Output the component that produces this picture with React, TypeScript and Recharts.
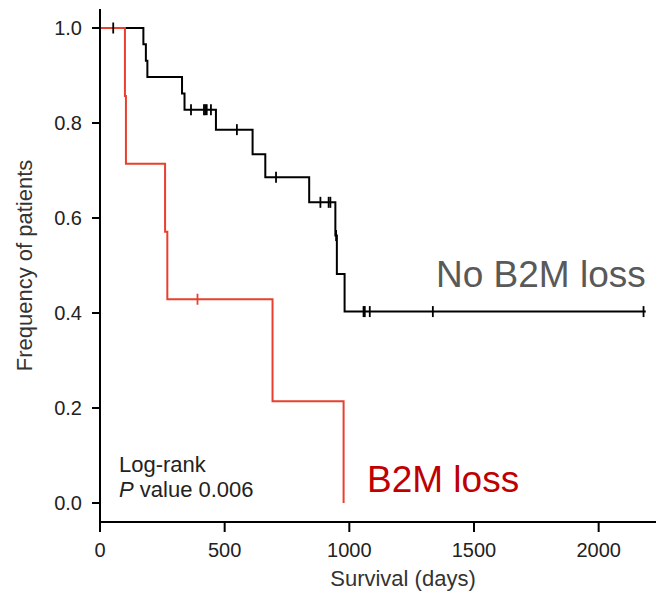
import { ComposedChart, Line, Scatter, XAxis, YAxis } from "recharts"

// Kaplan–Meier survival steps (days, survival fraction)
const noLossDays = [0, 174, 184, 190, 329, 339, 465, 612, 663, 839, 944, 950, 981, 2189]
const noLossSurv = [1, 0.966, 0.931, 0.897, 0.862, 0.828, 0.786, 0.734, 0.686, 0.633, 0.563, 0.482, 0.403, 0.403]

const lossDays = [0, 100, 104, 261, 270, 692, 977]
const lossSurv = [1, 0.857, 0.714, 0.571, 0.429, 0.214, 0]

// censored patients (tick marks)
const noLossCensorDays = [53, 365, 417, 422, 428, 445, 549, 706, 884, 917, 924, 947, 1057, 1062, 1082, 1335, 2180]
const noLossCensorSurv = [1, 0.828, 0.828, 0.828, 0.828, 0.828, 0.786, 0.686, 0.633, 0.633, 0.633, 0.563, 0.403, 0.403, 0.403, 0.403, 0.403]
const lossCensorDays = [391]
const lossCensorSurv = [0.429]

const xTicks = [0, 500, 1000, 1500, 2000]
const yTicks = [0, 0.2, 0.4, 0.6, 0.8, 1.0]

const BLACK = "#000000"
const RED = "#e8402f"
const FONT = "'Liberation Sans', Arial, sans-serif"

const zip = (xs: number[], ys: number[]) => xs.map((x, i) => ({ x, y: ys[i] }))

const noLoss = zip(noLossDays, noLossSurv)
const loss = zip(lossDays, lossSurv)
const noLossCensor = zip(noLossCensorDays, noLossCensorSurv)
const lossCensor = zip(lossCensorDays, lossCensorSurv)

function censorMark(color: string) {
  return (props: any) => {
    const { cx, cy } = props
    if (cx == null || cy == null) return <g />
    return <line x1={cx} x2={cx} y1={cy - 5.5} y2={cy + 5.5} stroke={color} strokeWidth={1.8} />
  }
}

const tickStyle = { fill: "#222", fontSize: 20, fontFamily: FONT }

export default function App() {
  return (
    <div style={{ position: "absolute", left: 0, top: 0, width: 656, height: 593, background: "#fff" }}>
      <ComposedChart width={656} height={593} margin={{ top: 9, right: 0, left: 0, bottom: 0 }}>
        <XAxis
          dataKey="x"
          type="number"
          domain={[0, 2230]}
          ticks={xTicks}
          allowDataOverflow
          height={71}
          stroke={BLACK}
          strokeWidth={2}
          tickSize={10}
          tickMargin={11}
          tick={tickStyle}
          label={{
            value: "Survival (days)",
            position: "insideBottom",
            offset: 7,
            dx: 25,
            style: { fill: "#333", fontSize: 22, fontFamily: FONT },
          }}
        />
        <YAxis
          dataKey="y"
          type="number"
          domain={[-0.04, 1.04]}
          ticks={yTicks}
          allowDataOverflow
          width={100}
          stroke={BLACK}
          strokeWidth={2}
          tickSize={8}
          tickMargin={10}
          tick={tickStyle}
          tickFormatter={(v: number) => v.toFixed(1)}
          label={{
            value: "Frequency of patients",
            angle: -90,
            position: "insideLeft",
            offset: 24,
            style: { fill: "#333", fontSize: 22, fontFamily: FONT, textAnchor: "middle" },
          }}
        />
        <Line
          data={noLoss}
          dataKey="y"
          type="stepAfter"
          stroke={BLACK}
          strokeWidth={2}
          dot={false}
          activeDot={false}
          isAnimationActive={false}
        />
        <Line
          data={loss}
          dataKey="y"
          type="stepAfter"
          stroke={RED}
          strokeWidth={2}
          dot={false}
          activeDot={false}
          isAnimationActive={false}
        />
        <Scatter data={noLossCensor} dataKey="y" shape={censorMark(BLACK)} isAnimationActive={false} />
        <Scatter data={lossCensor} dataKey="y" shape={censorMark(RED)} isAnimationActive={false} />
      </ComposedChart>
      <svg
        width={656}
        height={593}
        style={{ position: "absolute", left: 0, top: 0, pointerEvents: "none" }}
        fontFamily={FONT}
      >
        <text x={436} y={287} fontSize={37} fill="#595959">No B2M loss</text>
        <text x={367} y={492} fontSize={37} fill="#c00000">B2M loss</text>
        <text x={119} y={472} fontSize={22} fill="#222">Log-rank</text>
        <text x={119} y={497} fontSize={22} fill="#222">
          <tspan fontStyle="italic">P</tspan> value 0.006
        </text>
      </svg>
    </div>
  )
}
